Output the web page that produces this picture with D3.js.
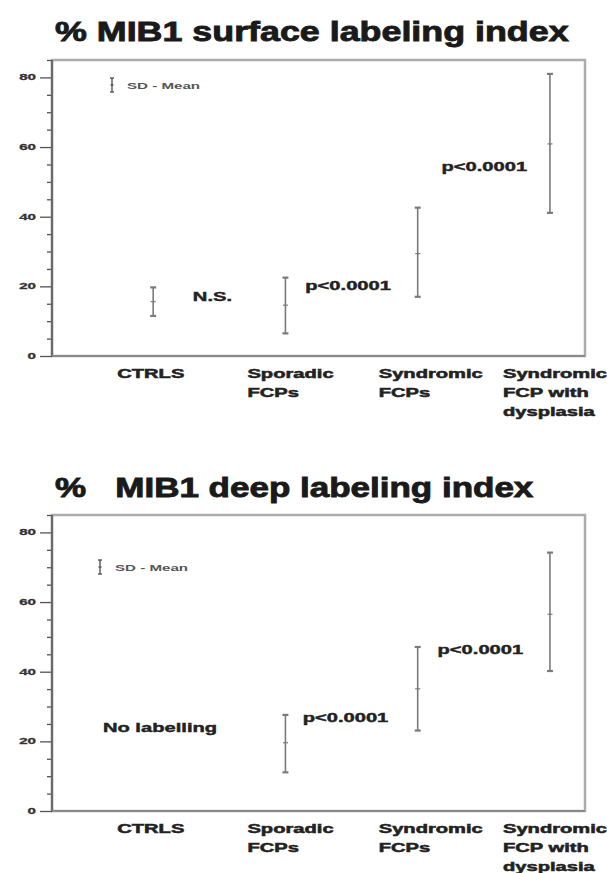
<!DOCTYPE html>
<html>
<head>
<meta charset="utf-8">
<script src="https://cdn.jsdelivr.net/npm/d3@7/dist/d3.min.js"></script>
<style>
  html, body { margin: 0; padding: 0; background: #fff; }
  svg { display: block; }
  text { font-family: "Liberation Sans", Arial, sans-serif; white-space: pre; }
</style>
</head>
<body>
<svg id="chart" width="607" height="873"></svg>
<script>
// ---------- DATA ----------
const categories = [
  ["CTRLS"],
  ["Sporadic", "FCPs"],
  ["Syndromic", "FCPs"],
  ["Syndromic", "FCP with", "dysplasia"]
];
const yTicks = [0, 20, 40, 60, 80];
const yMinorStep = 5;

const surfaceMean = [15.6, 14.6, 29.4, 60.9];
const surfaceLow  = [11.5, 6.5, 17.0, 41.1];
const surfaceHigh = [19.7, 22.5, 42.6, 81.0];

const deepMean = [null, 19.6, 35.1, 56.5];
const deepLow  = [null, 11.1, 23.1, 40.2];
const deepHigh = [null, 27.6, 47.1, 74.2];

const surfaceNotes = [
  { text: "N.S.", at: 0.30, value: 16.9 },
  { text: "p<0.0001", at: 1.15, value: 20.1 },
  { text: "p<0.0001", at: 2.18, value: 54.2 }
];
const deepNotes = [
  { text: "No labelling", at: -0.38, value: 23.9 },
  { text: "p<0.0001", at: 1.13, value: 26.8 },
  { text: "p<0.0001", at: 2.15, value: 46.2 }
];
const legendText = "SD - Mean";

// ---------- LAYOUT ----------
const svg = d3.select("#chart");
const STRETCH = 1.68;       // horizontal stretch of the original artwork
const labelDx = [-36, -38, -39, -47];

const panels = [
  { title: "% MIB1 surface labeling index", titleY: 41, titleStretch: 1.28,
    top: 60, bottom: 356, mean: surfaceMean, low: surfaceLow, high: surfaceHigh,
    notes: surfaceNotes, legendX: 112, legendY: 85 },
  { title: "%   MIB1 deep labeling index", titleY: 497, titleStretch: 1.25,
    top: 515, bottom: 811, mean: deepMean, low: deepLow, high: deepHigh,
    notes: deepNotes, legendX: 100, legendY: 567 }
];

const left = 52, right = 585;
const x = d3.scaleLinear().domain([-0.765, 3.265]).range([left, right]);

function stretchedText(g, tx, ty, str, sx) {
  return g.append("g")
    .attr("transform", `translate(${tx},${ty}) scale(${sx},1)`)
    .append("text").text(str);
}

panels.forEach(p => {
  const g = svg.append("g");
  const y = d3.scaleLinear().domain([0, 85]).range([p.bottom, p.top]);

  // title
  stretchedText(g, 55, p.titleY, p.title, p.titleStretch)
    .attr("font-size", 28).attr("font-weight", "bold").attr("fill", "#1a1a1a")
    .attr("stroke", "#1a1a1a").attr("stroke-width", 0.9);

  // frame
  g.append("rect")
    .attr("x", left).attr("y", p.top)
    .attr("width", right - left).attr("height", p.bottom - p.top)
    .attr("fill", "none").attr("stroke", "#acacac").attr("stroke-width", 2.5);

  // y axis (major + minor)
  const minor = d3.range(0, 85 + 0.001, yMinorStep).filter(v => !yTicks.includes(v));
  const axisMinor = d3.axisLeft(y).tickValues(minor).tickSize(5).tickFormat("");
  const axisMajor = d3.axisLeft(y).tickValues(yTicks).tickSize(12).tickFormat("");
  const ga1 = g.append("g").attr("transform", `translate(${left},0)`).call(axisMinor);
  const ga2 = g.append("g").attr("transform", `translate(${left},0)`).call(axisMajor);
  [ga1, ga2].forEach(ga => {
    ga.select(".domain").remove();
    ga.selectAll(".tick line").attr("stroke", "#555").attr("stroke-width", 1.3);
  });
  g.append("line")
    .attr("x1", left).attr("x2", left).attr("y1", p.top).attr("y2", p.bottom)
    .attr("stroke", "#6a6a6a").attr("stroke-width", 2.2);
  g.append("line")
    .attr("x1", left).attr("x2", right).attr("y1", p.bottom).attr("y2", p.bottom)
    .attr("stroke", "#8a8a8a").attr("stroke-width", 2.2);

  yTicks.forEach(v => {
    stretchedText(g, 36, y(v), String(v), STRETCH)
      .attr("font-size", 9).attr("font-weight", "bold").attr("fill", "#333")
      .attr("stroke", "#333").attr("stroke-width", 0.3)
      .attr("text-anchor", "end").attr("dominant-baseline", "central");
  });

  // category labels
  categories.forEach((lines, i) => {
    lines.forEach((ln, j) => {
      stretchedText(g, x(i) + labelDx[i], p.bottom + 22 + j * 19, ln, STRETCH)
        .attr("font-size", 12).attr("font-weight", "bold").attr("fill", "#222")
        .attr("stroke", "#222").attr("stroke-width", 0.5);
    });
  });

  // error bars
  const idx = d3.range(categories.length).filter(i => p.mean[i] !== null);
  const eb = g.append("g").attr("stroke", "#7a7a7a").attr("stroke-width", 1.6);
  idx.forEach(i => {
    const cx = x(i);
    eb.append("line").attr("x1", cx).attr("x2", cx)
      .attr("y1", y(p.low[i])).attr("y2", y(p.high[i]));
    [p.low[i], p.high[i]].forEach(v => {
      eb.append("line").attr("x1", cx - 3).attr("x2", cx + 3)
        .attr("y1", y(v)).attr("y2", y(v)).attr("stroke-width", 2.2);
    });
    eb.append("line").attr("x1", cx - 2.5).attr("x2", cx + 2.5)
      .attr("y1", y(p.mean[i])).attr("y2", y(p.mean[i])).attr("stroke-width", 1.2);
  });

  // annotations
  p.notes.forEach(n => {
    stretchedText(g, x(n.at), y(n.value), n.text, STRETCH)
      .attr("font-size", 12).attr("font-weight", "bold").attr("fill", "#222")
      .attr("stroke", "#222").attr("stroke-width", 0.4)
      .attr("dominant-baseline", "central");
  });

  // legend
  const lg = g.append("g").attr("stroke", "#555").attr("stroke-width", 1.4);
  lg.append("line").attr("x1", p.legendX).attr("x2", p.legendX)
    .attr("y1", p.legendY - 7).attr("y2", p.legendY + 7);
  [-7, 7].forEach(d => lg.append("line")
    .attr("x1", p.legendX - 2).attr("x2", p.legendX + 2)
    .attr("y1", p.legendY + d).attr("y2", p.legendY + d));
  lg.append("line").attr("x1", p.legendX - 1.5).attr("x2", p.legendX + 1.5)
    .attr("y1", p.legendY).attr("y2", p.legendY);
  stretchedText(g, p.legendX + 15, p.legendY + 1, legendText, STRETCH)
    .attr("font-size", 9).attr("font-weight", "bold").attr("fill", "#555")
    .attr("dominant-baseline", "central");
});
</script>
</body>
</html>
